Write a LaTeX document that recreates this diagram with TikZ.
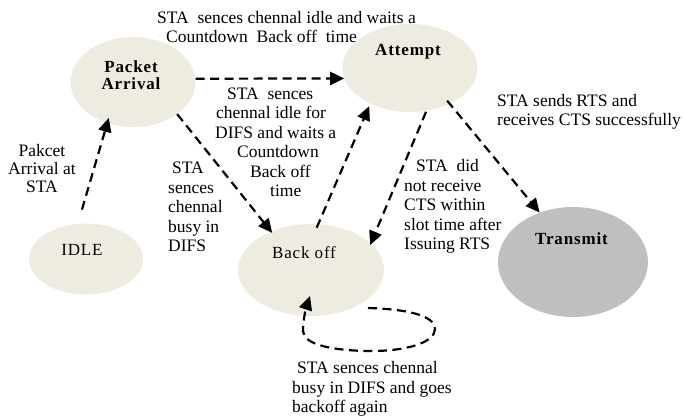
\documentclass[tikz,border=0pt]{standalone}
\usepackage{fontspec}
\setmainfont{Liberation Serif}
\newfontfamily\nodefont[LetterSpace=5]{Liberation Serif}
\usetikzlibrary{arrows.meta,shapes.geometric,calc}
\definecolor{tanfill}{HTML}{EEECE1}
\definecolor{grayfill}{HTML}{BFBFBF}
\begin{document}
\begin{tikzpicture}[x=1pt,y=-1pt,
  st/.style={ellipse, fill=tanfill, inner sep=0pt},
  lbl/.style={font=\fontsize{17}{17}\nodefont, inner sep=0pt, align=center},
  txt/.style={font=\fontsize{17.5}{19.5}\selectfont, inner sep=0pt},
  arr/.style={line width=2.2pt, dash pattern=on 9pt off 5.5pt, -{Triangle[length=14pt,width=13pt]}}
]
\useasboundingbox (0,0) rectangle (683,418);

% states
\node[st, minimum width=125, minimum height=90] (pa) at (133,82) {};
\node[st, minimum width=135, minimum height=88] (at) at (410,68) {};
\node[st, minimum width=114, minimum height=71] (idle) at (86,259) {};
\node[st, minimum width=146, minimum height=92] (bo) at (311,270) {};
\node[st, fill=grayfill, minimum width=150, minimum height=110] (tr) at (573,262) {};

\node[lbl] (pal) at ($(pa.center)+(-2,-7)$) {\bfseries Packet\\\bfseries Arrival};
\node[lbl] (atl) at ($(at.center)+(-2,-16)$) {\bfseries Attempt};
\node[lbl] (idlel) at ($(idle.center)+(-4,-9)$) {IDLE};
\node[lbl] (bol) at ($(bo.center)+(-7,-17)$) {Back off};
\node[lbl] (trl) at ($(tr.center)+(-1.5,-23)$) {\bfseries Transmit};

% transitions
\draw[arr] (pa.3) -- (at.189);
\draw[arr, shorten <=14.6pt, shorten >=-5.5pt] (idle.103) -- (pa.238);
\draw[arr, shorten >=-2pt] (pa.-36) -- (bo.136);
\draw[arr, shorten <=-4pt, shorten >=2.7pt] (bo.81) -- (at.222);
\draw[arr, shorten <=1pt, shorten >=-1.8pt] (at.-69) -- (bo.24);
\draw[arr, shorten <=-4pt] (at.-42) -- (tr.124);

% self loop on Back off
\begin{scope}[shift={(bo.center)}]
  \coordinate (ls) at (57,38);
  \coordinate (le) at (-1,26);
  \draw[arr] (ls) .. controls (94,39) and (124,45) .. (124,59)
    .. controls (124,73) and (94,81) .. (61,81)
    .. controls (24,81) and (-8,75) .. (-8,61)
    .. controls (-8,48) and (-4,35) .. (le);
\end{scope}

% texts
\node[txt, align=left, anchor=west] (t1) at (157,27)
  {STA\ \ sences chennal idle and waits a\\\hspace*{9pt}Countdown\ \ Back off\ \ time};
\node[txt, align=left, anchor=west] (t2) at (215,142.5)
  {\hspace*{12pt}STA\ \ sences\\\hspace*{1pt}chennal idle for\\DIFS and waits a\\\hspace*{22pt}Countdown\\\hspace*{35pt}Back off\\\hspace*{55pt}time};
\node[txt, align=center, font=\fontsize{17.5}{18}\selectfont] (t3) at (42,169)
  {Pakcet\\Arrival at\\STA};
\node[txt, align=left, anchor=west] (t4) at (168,207)
  {\hspace*{4pt}STA\\sences\\chennal\\busy in\\DIFS};
\node[txt, align=left, anchor=west, font=\fontsize{17.5}{18.5}\selectfont] (t5) at (497,112)
  {STA sends RTS and\\receives CTS successfully};
\node[txt, align=left, anchor=west] (t6) at (404,206.5)
  {\hspace*{12pt}STA\ \ did\\not receive\\CTS within\\slot time after\\Issuing RTS};
\node[txt, align=left, anchor=west] (t7) at (292,389)
  {\hspace*{5pt}STA sences chennal\\busy in DIFS and goes\\backoff again};
\end{tikzpicture}
\end{document}
